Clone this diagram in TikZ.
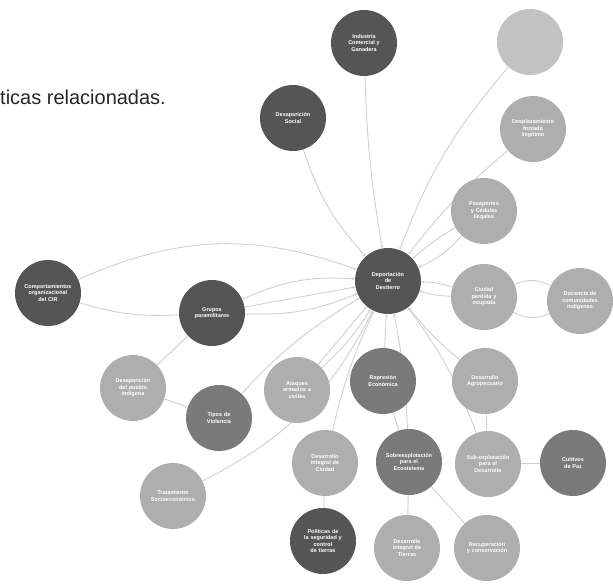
\documentclass[tikz,border=0pt]{standalone}
\usepackage{fontspec}
\setmainfont{Liberation Sans}
\usetikzlibrary{arrows.meta,backgrounds}
\definecolor{cdark}{HTML}{555555}
\definecolor{cmid}{HTML}{7A7A7A}
\definecolor{clight}{HTML}{AEAEAE}
\definecolor{cpale}{HTML}{C2C2C2}
\definecolor{cedge}{HTML}{D0D0D0}
\tikzset{
  topic/.style={circle, minimum size=66pt, inner sep=1pt, text=white, align=center,
    font=\fontsize{5.5}{6.5}\selectfont\bfseries, text width=54pt},
  dk/.style={topic, fill=cdark},
  md/.style={topic, fill=cmid},
  lt/.style={topic, fill=clight},
  pl/.style={topic, fill=cpale},
  link/.style={draw=cedge, line width=0.9pt, -{Stealth[length=3pt,width=3pt]}},
  plain/.style={draw=cedge, line width=0.9pt}
}
\begin{document}
\begin{tikzpicture}[x=1pt,y=-1pt]
\useasboundingbox (0,0) rectangle (613,586);
\node[anchor=west, font=\fontsize{20}{22}\selectfont, text=black!85, inner sep=0pt] (hdr) at (0,97) {ticas relacionadas.};

% nodes
\node[dk] (c) at (388,281) {Deportación\\de\\Destierro};
\node[dk] (ind) at (364,43) {Industria\\Comercial y\\Ganadera};
\node[dk] (dsoc) at (293,118) {Desaparición\\Social};
\node[pl] (tr1) at (530,42) {};
\node[lt] (tr2) at (533,129) {Desplazamiento\\forzado\\ilegítimo};
\node[lt] (pas) at (484,211) {Pasaportes\\y Cédulas\\ilegales};
\node[dk] (grp) at (212,313) {Grupos\\paramilitares};
\node[dk] (cmp) at (48,293) {Comportamientos\\organizacional\\del CIR};
\node[lt] (cdp) at (484,297) {Ciudad\\perdida y\\ocupada};
\node[lt] (doc) at (580,301) {Docencia de\\comunidades\\indígenas};
\node[lt] (dpu) at (133,388) {Desaparición\\del pueblo\\indígena};
\node[md] (tip) at (219,418) {Tipos de\\Violencia};
\node[lt] (ata) at (297,390) {Ataques\\armados a\\civiles};
\node[md] (rep) at (383,381) {Represión\\Económica};
\node[lt] (dag) at (485,381) {Desarrollo\\Agropecuario};
\node[lt] (dic) at (325,463) {Desarrollo\\integral de\\Ciudad};
\node[md] (sob) at (409,462) {Sobreexplotación\\para el\\Ecosistema};
\node[lt] (sub) at (488,464) {Sub-explotación\\para el\\Desarrollo};
\node[md] (cul) at (573,463) {Cultivos\\de Paz};
\node[lt] (tra) at (173,496) {Tratamiento\\Socioeconómico};
\node[dk] (pol) at (323,541) {Políticas de\\la seguridad y\\control\\de tierras};
\node[lt] (dit) at (407,548) {Desarrollo\\integral de\\Tierras};
\node[lt] (rec) at (487,548) {Recuperación\\y conservación};

% edges, behind the circles
\begin{scope}[on background layer]
\draw[link] (ind) to[bend right=4] (c);
\draw[link] (dsoc) to[bend right=12] (c);
\draw[link] (tr1) to[bend right=10] (c);
\draw[link] (tr2) to[bend right=6] (c);
\draw[link] (pas) to[bend left=12] (c);
\draw[link] (pas) to[bend right=6] (c);
\draw[link] (grp) to[bend left=14] (c);
\draw[link] (grp) to (c);
\draw[link] (grp) to[bend right=12] (c);
\draw[link] (cmp) to[bend left=22] (c);
\draw[plain] (cmp) to[bend right=10] (grp);
\draw[link] (cdp) to[bend right=8] (c);
\draw[link] (cdp) to[bend left=8] (c);
\draw[plain] (doc) to[bend right=25] (cdp);
\draw[plain] (doc) to[bend left=25] (cdp);
\draw[plain] (grp) to (dpu);
\draw[plain] (tip) to (dpu);
\draw[link] (tip) to[bend left=8] (c);
\draw[link] (ata) to (c);
\draw[link] (ata) to[bend right=8] (c);
\draw[link] (rep) to (c);
\draw[link] (dag) to[bend left=6] (c);
\draw[link] (dic) to[bend left=6] (c);
\draw[link] (sob) to[bend right=4] (c);
\draw[link] (sub) to[bend right=8] (c);
\draw[link] (tra) to[bend right=18] (c);
\draw[plain] (rep) to (sob);
\draw[plain] (dag) to (sub);
\draw[plain] (sub) to (cul);
\draw[plain] (dic) to (pol);
\draw[plain] (sob) to (dit);
\draw[plain] (sob) to (rec);
\end{scope}
\end{tikzpicture}
\end{document}
